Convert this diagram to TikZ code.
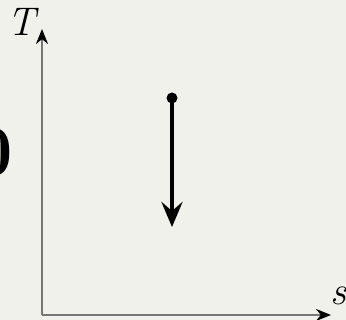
\documentclass[tikz,border=0pt]{standalone}
\usetikzlibrary{arrows.meta}
\definecolor{bg}{HTML}{F1F1EC}
\definecolor{axisgray}{HTML}{767676}
\tikzset{
  axis/.style={draw=axisgray, line width=2.6pt, -{Stealth[length=15pt,width=12pt,color=black]}},
  proc/.style={draw=black, line width=4.5pt, -{Stealth[length=25pt,width=21pt,inset=9pt]}},
  lbl/.style={inner sep=0pt, font=\fontsize{40}{40}\selectfont\itshape}
}
\begin{document}
\begin{tikzpicture}[x=1pt,y=1pt]
\useasboundingbox (0,0) rectangle (346,320);
\fill[bg] (0,0) rectangle (346,320);
\coordinate (O) at (42,5);
\coordinate (Ty) at (42,291);
\coordinate (Sx) at (331,5);
\draw[axis] (O) -- (Ty);
\draw[axis] (O) -- (Sx);
\node[lbl] (T) at (22,298) {T};
\node[lbl] (S) at (338,24) {s};
\node[inner sep=0pt, font=\fontsize{72}{72}\selectfont\bfseries] (zero) at (-7,168) {0};
\fill (172,222) circle (5.5) coordinate (P1);
\coordinate (P2) at (172,93);
\draw[proc] (P1) -- (P2);
\end{tikzpicture}
\end{document}
